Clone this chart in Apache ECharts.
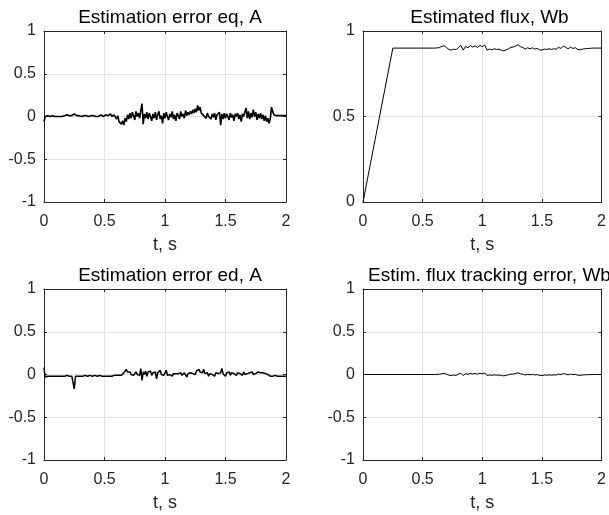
<!DOCTYPE html>
<html>
<head>
<meta charset="utf-8">
<script src="https://cdn.jsdelivr.net/npm/echarts@6/dist/echarts.min.js"></script>
<style>
  html, body { margin: 0; padding: 0; background: #fff; }
  #chart { width: 609px; height: 515px; }
</style>
</head>
<body>
<div id="chart"></div>
<script>
// sampled every 0.01 s from 0 to 2 s
const sampleStep = 0.01

const eqErr = [
  -0.06, 0.00, 0.00, 0.01, 0.00, 0.00, 0.00, 0.01, 0.00, 0.00,
  0.00, 0.00, 0.01, 0.00, 0.00, 0.00, 0.00, 0.01, 0.00, 0.02,
  0.00, 0.01, 0.00, 0.01, 0.02, 0.03, 0.01, 0.01, 0.00, 0.01,
  0.01, 0.00, 0.01, 0.01, 0.00, 0.01, 0.02, 0.00, 0.01, 0.01,
  0.00, 0.01, 0.02, 0.00, 0.01, 0.00, 0.01, 0.02, 0.01, 0.00,
  0.01, 0.02, 0.00, 0.01, 0.01, 0.03, 0.00, 0.01, 0.02, 0.00,
  -0.03, 0.01, -0.06, -0.04, -0.09, -0.05, -0.10, -0.02, -0.06, 0.02,
  -0.03, 0.04, -0.02, 0.05, 0.01, -0.04, 0.06, 0.00, 0.04, -0.02,
  0.07, 0.15, -0.09, 0.03, -0.02, 0.05, -0.03, 0.04, 0.00, -0.05,
  0.03, -0.02, 0.05, -0.04, 0.02, 0.06, -0.03, 0.01, -0.08, 0.04,
  -0.02, 0.05, 0.00, -0.04, 0.03, -0.01, 0.06, -0.03, 0.02, -0.05,
  0.04, 0.01, -0.03, 0.06, 0.00, 0.03, -0.02, 0.07, 0.01, 0.05,
  0.02, 0.06, 0.03, 0.08, 0.04, 0.09, 0.05, 0.13, 0.07, 0.11,
  0.04, 0.06, 0.01, 0.03, -0.02, 0.04, 0.00, 0.02, -0.03, 0.03,
  -0.01, 0.04, -0.04, 0.02, 0.00, 0.05, -0.10, 0.03, -0.03, 0.04,
  -0.02, 0.03, 0.00, -0.04, 0.04, -0.01, 0.02, -0.05, 0.03, 0.00,
  0.04, -0.03, 0.02, -0.06, 0.03, 0.00, 0.05, 0.10, -0.02, 0.06,
  -0.03, 0.04, -0.01, 0.08, 0.00, 0.05, -0.04, 0.03, -0.02, 0.04,
  -0.03, 0.02, -0.05, 0.01, -0.06, -0.02, -0.08, -0.03, 0.11, 0.06,
  0.02, 0.01, 0.01, 0.02, 0.01, 0.01, 0.01, 0.02, 0.01, 0.00,
  0.01
]

const edErr = [
  0.08, -0.03, -0.02, -0.02, -0.02, -0.02, -0.02, -0.02, -0.02, -0.02,
  -0.02, -0.02, -0.02, -0.02, -0.02, -0.02, -0.01, -0.02, -0.02, -0.01,
  -0.02, -0.02, -0.01, -0.02, -0.01, -0.17, -0.02, -0.01, -0.02, -0.02,
  -0.02, -0.01, -0.02, -0.02, -0.01, -0.02, -0.02, -0.02, -0.01, -0.02,
  -0.02, -0.02, -0.01, -0.02, -0.02, -0.02, -0.01, -0.02, -0.02, -0.01,
  -0.02, -0.02, -0.02, -0.01, -0.02, -0.01, -0.02, -0.02, -0.01, -0.02,
  -0.01, -0.02, -0.01, -0.02, -0.01, 0.00, 0.02, 0.04, 0.06, 0.03,
  0.01, 0.03, 0.00, 0.02, -0.01, 0.01, 0.03, 0.00, 0.02, -0.01,
  0.07, -0.07, 0.03, 0.00, 0.04, -0.02, 0.03, 0.01, 0.04, -0.01,
  0.02, 0.00, 0.03, -0.05, 0.02, 0.01, 0.05, 0.00, 0.02, -0.01,
  0.02, 0.05, -0.01, 0.01, 0.00, 0.02, -0.02, 0.01, 0.00, 0.01,
  0.00, 0.01, 0.00, 0.02, -0.01, 0.01, 0.02, 0.04, -0.03, 0.01,
  0.00, 0.02, 0.00, 0.01, 0.03, 0.00, 0.04, 0.02, 0.06, 0.03,
  0.05, 0.02, 0.06, 0.01, 0.00, 0.02, -0.02, 0.01, 0.03, 0.00,
  0.01, -0.02, 0.02, 0.00, 0.01, 0.03, 0.02, 0.07, 0.01, 0.03,
  -0.02, 0.02, 0.00, 0.03, -0.01, 0.02, 0.00, 0.01, 0.03, -0.01,
  0.02, 0.00, 0.01, 0.02, -0.01, 0.03, 0.00, 0.02, 0.01, 0.00,
  0.02, 0.01, 0.03, 0.00, 0.02, 0.01, 0.02, 0.03, 0.05, 0.02,
  0.01, 0.02, 0.00, 0.01, -0.01, 0.00, -0.01, -0.02, -0.01, -0.02,
  -0.02, -0.01, -0.02, -0.02, -0.03, -0.02, -0.01, -0.02, -0.02, -0.02,
  -0.02
]

// flux traces share one time base
const fluxTime = [
  0, 0.25,
  0.60, 0.62, 0.64, 0.66, 0.68, 0.70, 0.72, 0.74, 0.76, 0.78,
  0.80, 0.82, 0.84, 0.86, 0.88, 0.90, 0.92, 0.94, 0.96, 0.98,
  1.00, 1.02, 1.04, 1.06, 1.08, 1.10, 1.12, 1.14, 1.16, 1.18,
  1.20, 1.22, 1.24, 1.26, 1.28, 1.30, 1.32, 1.34, 1.36, 1.38,
  1.40, 1.42, 1.44, 1.46, 1.48, 1.50, 1.52, 1.54, 1.56, 1.58,
  1.60, 1.62, 1.64, 1.66, 1.68, 1.70, 1.72, 1.74, 1.76, 1.78,
  1.80, 1.82, 1.84, 1.86, 1.88, 1.90, 1.92, 1.94, 1.96, 1.98,
  2.00
]

const fluxEst = [
  0, 0.900,
  0.900, 0.901, 0.903, 0.910, 0.914, 0.904, 0.892, 0.888, 0.894, 0.890,
  0.904, 0.916, 0.888, 0.910, 0.902, 0.914, 0.906, 0.912, 0.904, 0.916,
  0.908, 0.918, 0.888, 0.894, 0.890, 0.896, 0.892, 0.894, 0.888, 0.884,
  0.890, 0.896, 0.904, 0.906, 0.912, 0.920, 0.908, 0.904, 0.894, 0.902,
  0.896, 0.902, 0.894, 0.898, 0.890, 0.888, 0.894, 0.892, 0.896, 0.892,
  0.896, 0.894, 0.904, 0.898, 0.912, 0.904, 0.896, 0.906, 0.898, 0.902,
  0.892, 0.890, 0.894, 0.896, 0.898, 0.898, 0.900, 0.900, 0.900, 0.900,
  0.900
]

const fluxErr = [
  0, 0,
  0.000, 0.001, 0.003, 0.010, 0.014, 0.004, -0.008, -0.012, -0.006, -0.010,
  0.004, 0.016, -0.012, 0.010, 0.002, 0.014, 0.006, 0.012, 0.004, 0.016,
  0.008, 0.018, -0.012, -0.006, -0.010, -0.004, -0.008, -0.006, -0.012, -0.016,
  -0.010, -0.004, 0.004, 0.006, 0.012, 0.020, 0.008, 0.004, -0.006, 0.002,
  -0.004, 0.002, -0.006, -0.002, -0.010, -0.012, -0.006, -0.008, -0.004, -0.008,
  -0.004, -0.006, 0.004, -0.002, 0.012, 0.004, -0.004, 0.006, -0.002, 0.002,
  -0.008, -0.010, -0.006, -0.004, -0.002, -0.002, 0.000, 0.000, 0.000, 0.000,
  0.000
]

const panelTitles = [
  'Estimation error eq, A',
  'Estimated flux, Wb',
  'Estimation error ed, A',
  'Estim. flux tracking error, Wb'
]
const xTicks = { min: 0, max: 2, interval: 0.5 }
const yRanges = [[-1, 1], [0, 1], [-1, 1], [-1, 1]]

const sampled = arr => arr.map((v, i) => [+(i * sampleStep).toFixed(2), v])
const paired = (ts, vs) => ts.map((t, i) => [t, vs[i]])
const panelData = [sampled(eqErr), paired(fluxTime, fluxEst), sampled(edErr), paired(fluxTime, fluxErr)]
const lineWidths = [1.6, 1, 1.5, 1]

const grids = [
  { left: 44, top: 31, width: 242, height: 171 },
  { left: 363, top: 31, width: 243, height: 171 },
  { left: 44, top: 289, width: 242, height: 171 },
  { left: 363, top: 289, width: 243, height: 171 }
]

const font = 'Liberation Sans, Arial, sans-serif'
const axisColor = '#262626'
const gridColor = '#e3e3e3'

const option = {
  backgroundColor: '#fff',
  animation: false,
  title: [],
  grid: [],
  xAxis: [],
  yAxis: [],
  series: []
}

grids.forEach((g, i) => {
  option.grid.push(g)
  option.title.push({
    text: panelTitles[i],
    left: g.left + g.width / 2,
    top: g.top - 28,
    textAlign: 'center',
    textStyle: { fontFamily: font, fontSize: 19, fontWeight: 'normal', color: '#000' }
  })
  // bottom axis with labels
  option.xAxis.push({
    type: 'value', gridIndex: i, ...xTicks,
    name: 't, s', nameLocation: 'middle', nameGap: 34,
    nameTextStyle: { fontFamily: font, fontSize: 18, color: axisColor },
    axisLine: { onZero: false, lineStyle: { color: axisColor, width: 1 } },
    axisTick: { inside: true, length: 3, lineStyle: { color: axisColor } },
    axisLabel: { fontFamily: font, fontSize: 16, color: axisColor, margin: 12, showMinLabel: true, showMaxLabel: true },
    splitLine: { show: true, lineStyle: { color: gridColor, width: 1 } }
  })
  // top edge of the box
  option.xAxis.push({
    type: 'value', gridIndex: i, position: 'top', ...xTicks,
    axisLine: { onZero: false, lineStyle: { color: axisColor, width: 1 } },
    axisTick: { inside: true, length: 3, lineStyle: { color: axisColor } },
    axisLabel: { show: false },
    splitLine: { show: false }
  })
  option.yAxis.push({
    type: 'value', gridIndex: i, min: yRanges[i][0], max: yRanges[i][1], interval: 0.5,
    axisLine: { show: true, onZero: false, lineStyle: { color: axisColor, width: 1 } },
    axisTick: { show: true, inside: true, length: 3, lineStyle: { color: axisColor } },
    axisLabel: { fontFamily: font, fontSize: 16, color: axisColor, margin: 8 },
    splitLine: { show: true, lineStyle: { color: gridColor, width: 1 } }
  })
  // right edge of the box
  option.yAxis.push({
    type: 'value', gridIndex: i, position: 'right', min: yRanges[i][0], max: yRanges[i][1], interval: 0.5,
    axisLine: { show: true, onZero: false, lineStyle: { color: axisColor, width: 1 } },
    axisTick: { show: true, inside: true, length: 3, lineStyle: { color: axisColor } },
    axisLabel: { show: false },
    splitLine: { show: false }
  })
  option.series.push({
    type: 'line',
    xAxisIndex: i * 2,
    yAxisIndex: i * 2,
    data: panelData[i],
    showSymbol: false,
    lineStyle: { color: '#000', width: lineWidths[i] },
    z: 3
  })
})

const chart = echarts.init(document.getElementById('chart'), null, { renderer: 'canvas' })
chart.setOption(option)
</script>
</body>
</html>
